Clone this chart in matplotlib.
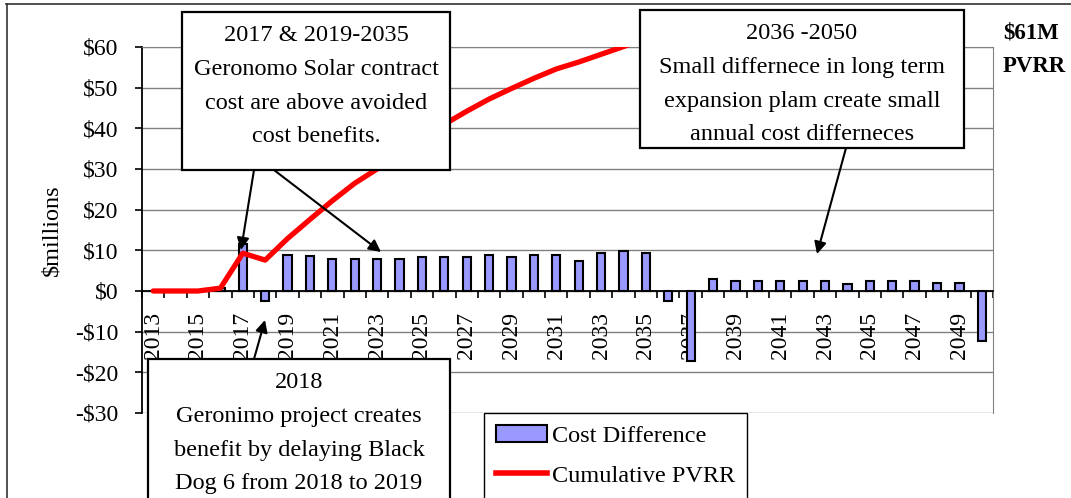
import matplotlib

matplotlib.use("Agg")
import matplotlib.pyplot as plt
from matplotlib.patches import Rectangle, Patch, FancyArrowPatch
from matplotlib.lines import Line2D
from matplotlib.ticker import FixedLocator, FuncFormatter

plt.rcParams["font.family"] = ["Liberation Serif", "DejaVu Serif"]

# Data
years = list(range(2013, 2051))
cost_diff = [0, 0, 0, 0.8, 11.5, -2.5, 8.9, 8.5, 7.9, 7.9, 7.9, 7.9, 8.4, 8.4,
             8.4, 8.9, 8.4, 8.9, 8.9, 7.4, 9.3, 9.8, 9.3, -2.5, -17.3, 3.0,
             2.5, 2.5, 2.5, 2.5, 2.5, 1.6, 2.5, 2.5, 2.5, 2.0, 2.0, -12.3]
cum_pvrr = [0, 0, 0, 0.7, 9.3, 7.6, 12.9, 17.6, 22.2, 26.5, 30.0, 34.0, 37.6,
            41.0, 44.2, 47.2, 49.8, 52.3, 54.6, 56.3, 58.2, 60.1, 62.0, 61.6,
            58.9, 59.3, 59.6, 59.9, 60.2, 60.5, 60.7, 60.9, 61.1, 61.3, 61.5,
            61.6, 61.8, 61.0]
y_ticks = [-30, -20, -10, 0, 10, 20, 30, 40, 50, 60]
year_labels = [str(y) for y in years[::2]]

note_1 = "2017 & 2019-2035\nGeronomo Solar contract\ncost are above avoided\ncost benefits."
note_2 = "2036 -2050\nSmall differnece in long term\nexpansion plam create small\nannual cost differneces"
note_3 = "2018\nGeronimo project creates\nbenefit by delaying Black\nDog 6 from 2018 to 2019"

W, H = 1071, 498


def fp(x, y):
    # pixel (from top-left) -> figure fraction
    return (x / W, 1 - y / H)


fig = plt.figure(figsize=(W / 100, H / 100), dpi=100)
ax = fig.add_axes([142 / W, 1 - 413 / H, (993 - 142) / W, (413 - 47) / H])

idx = list(range(len(years)))
ax.bar(idx, cost_diff, width=0.37, color="#9999FF", edgecolor="black",
       linewidth=1.5, zorder=3)
ax.plot(idx, cum_pvrr, color="#FF0000", lw=3.8, zorder=4,
        solid_joinstyle="round", solid_capstyle="round")

ax.set_xlim(-0.5, len(years) - 0.5)
ax.set_ylim(-30, 60)

# gridlines and frame
for v in y_ticks:
    ax.axhline(v, color="#808080", lw=1, zorder=0.5)
for s in ["top", "right"]:
    ax.spines[s].set_color("#808080")
ax.spines["left"].set_color("black")
ax.spines["left"].set_linewidth(1.3)
ax.spines["bottom"].set_position(("data", 0))
ax.spines["bottom"].set_linewidth(1.3)

ax.set_yticks(y_ticks)
ax.yaxis.set_major_formatter(
    FuncFormatter(lambda v, p: ("-$%d" % -v) if v < 0 else ("$%d" % v)))
ax.tick_params(axis="y", direction="out", length=5, width=1.2, pad=12,
               labelsize=17)

ax.xaxis.set_major_locator(FixedLocator(idx[::2]))
ax.set_xticklabels(year_labels, rotation=90)
ax.xaxis.set_minor_locator(FixedLocator([i - 0.5 for i in idx] + [idx[-1] + 0.5]))
ax.tick_params(axis="x", which="major", length=0, pad=15, labelsize=17)
ax.tick_params(axis="x", which="minor", direction="out", length=5, width=1.2)
for lab in ax.get_xticklabels():
    lab.set_va("top")

ax.set_ylabel("$millions", fontsize=17.5, labelpad=9)

# legend
handles = [Patch(facecolor="#9999FF", edgecolor="black", linewidth=1.5),
           Line2D([], [], color="#FF0000", lw=4)]
leg = fig.legend(handles, ["Cost Difference", "Cumulative PVRR"],
                 loc="upper left", bbox_to_anchor=fp(484, 413),
                 borderaxespad=0, fontsize=17.5, fancybox=False,
                 edgecolor="black", framealpha=1, borderpad=0.5,
                 labelspacing=0.72, handlelength=2.1, handletextpad=0.2)
leg.get_frame().set_linewidth(1.0)


def note(x0, y0, x1, y1, text):
    fig.add_artist(Rectangle(fp(x0, y1), (x1 - x0) / W, (y1 - y0) / H,
                             transform=fig.transFigure, fc="white",
                             ec="black", lw=1.6, zorder=5))
    cx, cy = fp((x0 + x1) / 2, y0 + 13)
    fig.text(cx, cy, text, ha="center", va="top", fontsize=17.5,
             linespacing=1.8, zorder=6)


note(182, 12, 450, 170, note_1)
note(640, 10, 964, 148, note_2)
note(148, 359, 450, 520, note_3)


def arrow(xa, ya, xb, yb):
    fig.add_artist(FancyArrowPatch(fp(xa, ya), fp(xb, yb),
                                   transform=fig.transFigure,
                                   arrowstyle="-|>", mutation_scale=18,
                                   lw=1.5, color="black", zorder=7,
                                   shrinkA=0, shrinkB=0))


arrow(254, 170, 241, 250)
arrow(274, 170, 381, 252)
arrow(254, 359, 265, 320)
arrow(846, 148, 817, 254)

fig.text(*fp(1003, 38), "$61M", fontsize=16.5, fontweight="bold",
         va="baseline", ha="left")
fig.text(*fp(1003, 72), "PVRR", fontsize=16.5, fontweight="bold",
         va="baseline", ha="left")

# outer frame (cropped at right/bottom)
fig.add_artist(Line2D([6 / W, 1], [1 - 4.5 / H] * 2, transform=fig.transFigure,
                      color="#333333", lw=1.2))
fig.add_artist(Line2D([6.5 / W] * 2, [0, 1 - 4.5 / H], transform=fig.transFigure,
                      color="#333333", lw=1.2))

fig.savefig("out.png", dpi=100)
